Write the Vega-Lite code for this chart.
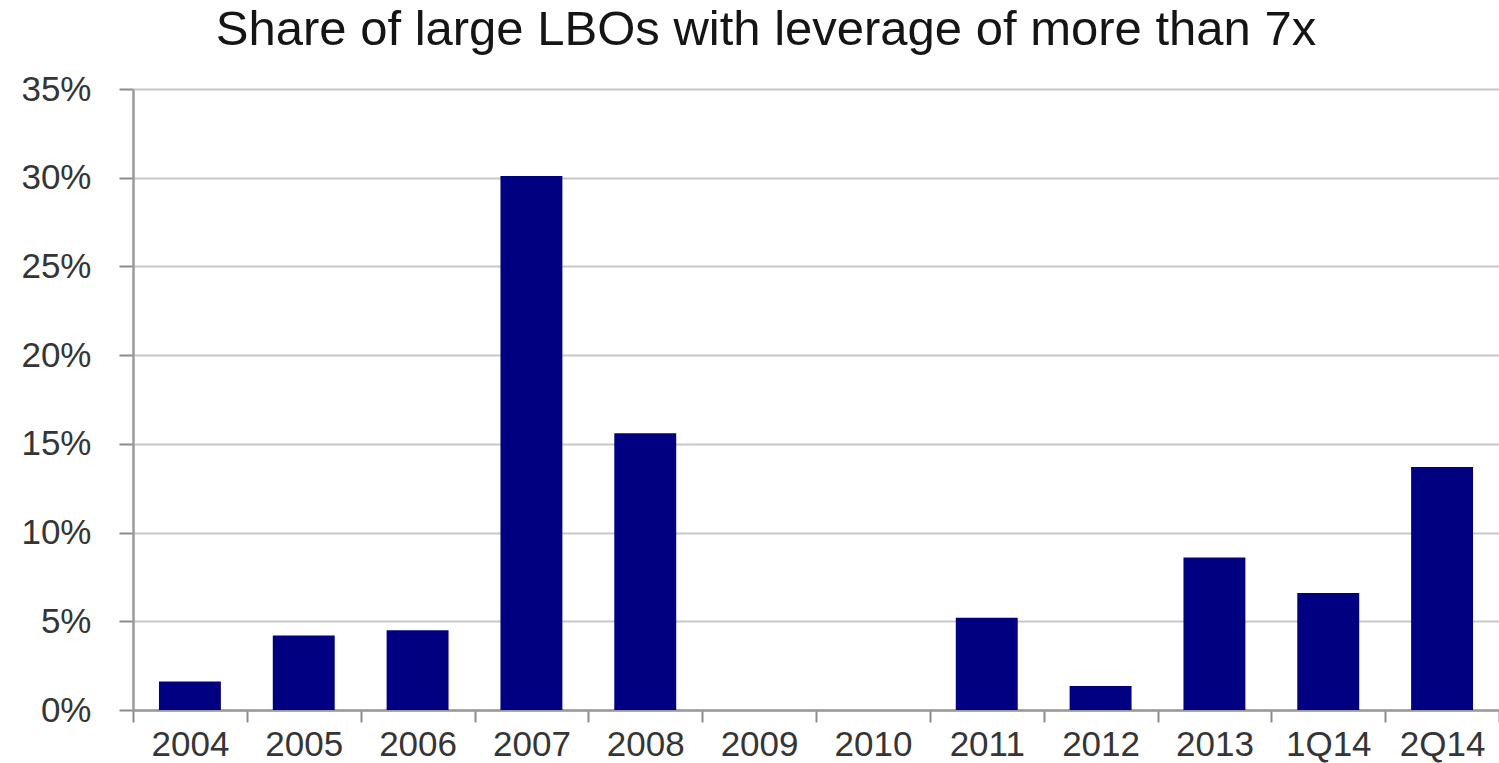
{
  "$schema": "https://vega.github.io/schema/vega-lite/v6.json",
  "autosize": {"type": "none"},
  "padding": {"left": 133, "top": 89, "right": 0, "bottom": 53},
  "width": 1366,
  "height": 621,
  "background": "white",
  "title": {
    "text": "Share of large LBOs with leverage of more than 7x",
    "font": "Liberation Sans",
    "fontSize": 49,
    "fontWeight": "normal",
    "color": "#151515",
    "anchor": "middle",
    "baseline": "alphabetic",
    "dx": -50,
    "offset": -22
  },
  "data": {
    "values": [
      {"period": "2004", "share": 0.016},
      {"period": "2005", "share": 0.042},
      {"period": "2006", "share": 0.045},
      {"period": "2007", "share": 0.301},
      {"period": "2008", "share": 0.156},
      {"period": "2009", "share": 0},
      {"period": "2010", "share": 0},
      {"period": "2011", "share": 0.052},
      {"period": "2012", "share": 0.0135},
      {"period": "2013", "share": 0.086},
      {"period": "1Q14", "share": 0.066},
      {"period": "2Q14", "share": 0.137}
    ]
  },
  "mark": {"type": "bar", "color": "#000080", "width": {"band": 0.544}},
  "encoding": {
    "x": {
      "field": "period",
      "type": "nominal",
      "sort": null,
      "scale": {"paddingInner": 0, "paddingOuter": 0},
      "axis": {
        "title": null,
        "labelAngle": 0,
        "tickBand": "extent",
        "tickSize": 12,
        "tickColor": "#8c8c8c",
        "tickWidth": 2,
        "domainColor": "#9a9a9a",
        "domainWidth": 2.5,
        "labelFont": "Liberation Sans",
        "labelFontSize": 35,
        "labelColor": "#353535",
        "labelPadding": 5,
        "grid": false
      }
    },
    "y": {
      "field": "share",
      "type": "quantitative",
      "scale": {"domain": [0, 0.35], "nice": false},
      "axis": {
        "title": null,
        "values": [0, 0.05, 0.1, 0.15, 0.2, 0.25, 0.3, 0.35],
        "format": ".0%",
        "tickSize": 14,
        "tickColor": "#8c8c8c",
        "tickWidth": 2,
        "domainColor": "#9a9a9a",
        "domainWidth": 2.5,
        "gridColor": "#c8c8c8",
        "gridWidth": 2,
        "labelFont": "Liberation Sans",
        "labelFontSize": 35,
        "labelColor": "#353535",
        "labelPadding": 28
      }
    }
  },
  "config": {"view": {"stroke": null}}
}
